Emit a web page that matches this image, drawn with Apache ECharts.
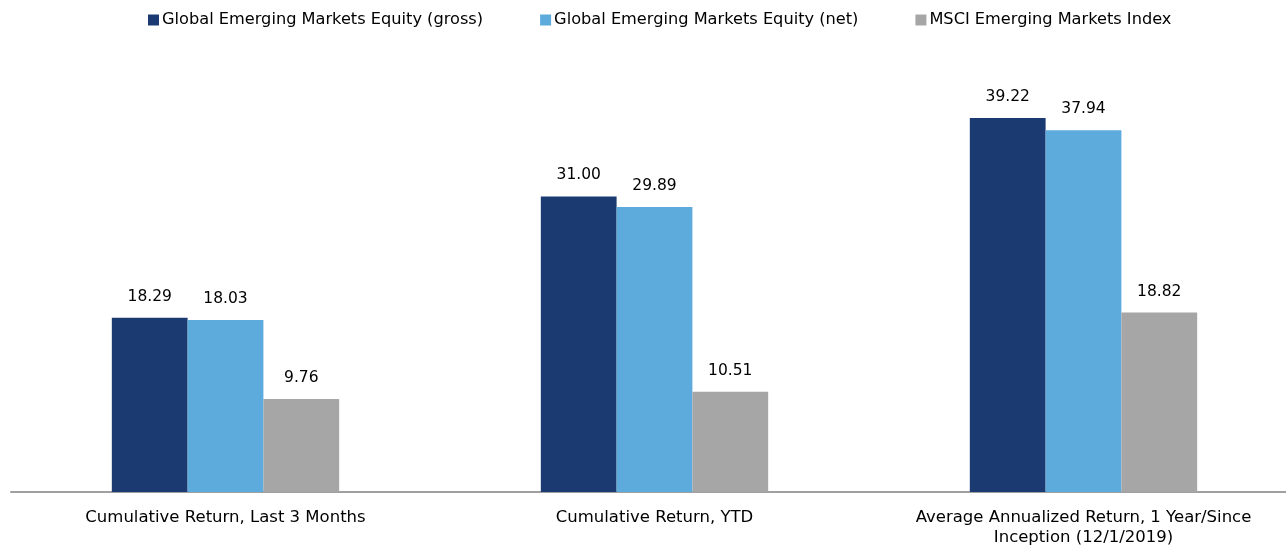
<!DOCTYPE html>
<html lang="en" style="height: 100%">
<head>
    <meta charset="utf-8">
    <title>Returns</title>
    <script src="https://cdn.jsdelivr.net/npm/echarts@6/dist/echarts.min.js"></script>
</head>
<body style="height: 100%; margin: 0; background: #fff;">
<div id="container" style="width: 1286px; height: 548px;"></div>
<script type="text/javascript">
    var categories = ['Cumulative Return, Last 3 Months', 'Cumulative Return, YTD',
        'Average Annualized Return, 1 Year/Since\nInception (12/1/2019)'];
    var seriesNames = ['Global Emerging Markets Equity (gross)', 'Global Emerging Markets Equity (net)',
        'MSCI Emerging Markets Index'];
    var grossValues = [18.29, 31.00, 39.22];
    var netValues = [18.03, 29.89, 37.94];
    var msciValues = [9.76, 10.51, 18.82];
    var colors = ['#1c3a72', '#5daadd', '#a6a6a6'];
    var FONT = 'DejaVu Sans';

    var myChart = echarts.init(document.getElementById('container'), null, {renderer: 'canvas'});

    function makeSeries(name, data, color) {
        return {
            name: name,
            type: 'bar',
            data: data,
            barGap: '0%',
            barCategoryGap: '47%',
            itemStyle: {color: color},
            label: {
                show: true,
                position: 'top',
                distance: 13,
                color: '#000',
                fontFamily: FONT,
                fontSize: 15.5,
                formatter: function (p) { return p.value.toFixed(2); }
            }
        };
    }

    var option = {
        animation: false,
        textStyle: {fontFamily: FONT},
        legend: {
            top: 7,
            left: 143,
            itemWidth: 11,
            itemHeight: 11,
            itemGap: 57,
            icon: 'rect',
            textStyle: {fontFamily: FONT, fontSize: 16.2, color: '#000', padding: [0, 0, 0, -2]},
            data: seriesNames
        },
        grid: {left: 11, width: 1287, top: 63, bottom: 56, containLabel: false, outerBoundsMode: 'none'},
        xAxis: {
            type: 'category',
            data: categories,
            axisLine: {lineStyle: {color: '#a0a0a0', width: 2}},
            axisTick: {show: false},
            axisLabel: {
                interval: 0,
                margin: 16,
                color: '#000',
                fontFamily: FONT,
                fontSize: 16.5,
                lineHeight: 20
            }
        },
        yAxis: {
            type: 'value',
            min: 0,
            max: 45,
            show: false,
            splitLine: {show: false}
        },
        series: [
            makeSeries(seriesNames[0], grossValues, colors[0]),
            makeSeries(seriesNames[1], netValues, colors[1]),
            makeSeries(seriesNames[2], msciValues, colors[2])
        ]
    };
    myChart.setOption(option);
</script>
</body>
</html>
